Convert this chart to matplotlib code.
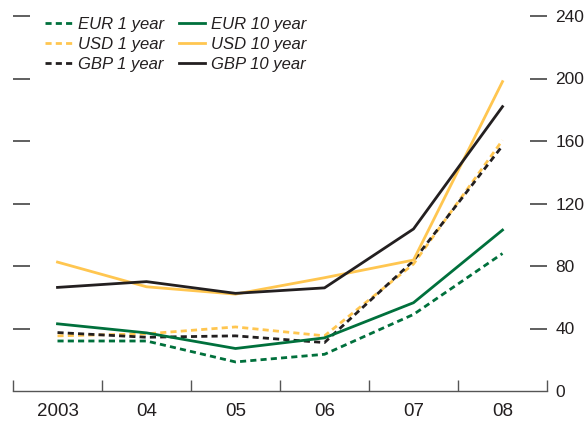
import numpy as np
import matplotlib.pyplot as plt

plt.rcParams['font.family'] = ['Liberation Sans', 'DejaVu Sans']

years = ['2003', '04', '05', '06', '07', '08']

eur_1y = [32, 32, 18.6, 23.5, 49, 88]
eur_10y = [43, 37.2, 27.2, 34, 56.5, 103]
usd_1y = [35.3, 36.6, 41, 35.3, 81.3, 160.5]
usd_10y = [82.5, 66.7, 62, 72.5, 83.8, 198]
gbp_1y = [37.4, 34.4, 35.3, 31, 83.4, 157]
gbp_10y = [66.3, 70, 62.5, 66, 103.7, 182]

green = '#00703C'
yellow = '#FFC650'
black = '#231F20'
txt = '#231F20'

fig = plt.figure(figsize=(5.86, 4.26), dpi=100)
ax = fig.add_axes([13/586, (426-391)/426, (547-13)/586, (391-16)/426])

x = np.arange(len(years))
lw = 2.0
dash = (2.2, 1.5)
ax.plot(x, eur_1y, color=green, lw=lw, dashes=dash, label='EUR 1 year')
ax.plot(x, usd_1y, color=yellow, lw=lw, dashes=dash, label='USD 1 year')
ax.plot(x, gbp_1y, color=black, lw=lw, dashes=dash, label='GBP 1 year')
ax.plot(x, eur_10y, color=green, lw=lw, label='EUR 10 year')
ax.plot(x, usd_10y, color=yellow, lw=lw, label='USD 10 year')
ax.plot(x, gbp_10y, color=black, lw=lw, label='GBP 10 year')

ax.set_xlim(-0.5, len(years) - 0.5)
ax.set_ylim(0, 240)

for s in ['top', 'left', 'right']:
    ax.spines[s].set_visible(False)
ax.spines['bottom'].set_color('#555555')
ax.spines['bottom'].set_linewidth(1.0)

# category boundaries carry the tick marks, labels sit in between
ax.set_xticks(np.arange(-0.5, len(years), 1.0))
ax.set_xticklabels([])
ax.set_xticks(x, minor=True)
ax.set_xticklabels(years, minor=True)
ax.tick_params(axis='x', which='major', direction='in', length=8, width=1, color='#555555')
ax.tick_params(axis='x', which='minor', length=0, pad=9, labelsize=13.5, labelcolor=txt)

ax.set_yticks([0, 40, 80, 120, 160, 200, 240])
ax.tick_params(axis='y', left=True, right=True, labelleft=False, labelright=True,
               direction='in', length=12, width=1.2, color='#444444', pad=6,
               labelsize=12.5, labelcolor=txt)
t0 = ax.yaxis.get_major_ticks()[0]
t0.tick1line.set_visible(False)
t0.tick2line.set_visible(False)

ax.legend(loc='upper left', ncol=2, frameon=False, prop={'style': 'italic', 'size': 12},
          handlelength=1.6, handletextpad=0.35, columnspacing=0.9, labelspacing=0.3,
          borderpad=0, borderaxespad=0, bbox_to_anchor=((45-13)/534, 0.997),
          labelcolor=txt)

fig.savefig('out.png', dpi=100)
